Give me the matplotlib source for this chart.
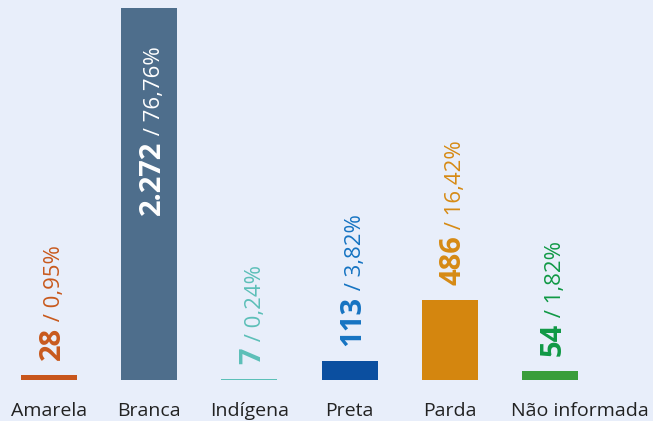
import matplotlib
matplotlib.use("Agg")
import matplotlib.pyplot as plt
import matplotlib.transforms as mtransforms

categories = ["Amarela", "Branca", "Indígena", "Preta", "Parda", "Não informada"]
counts = [28, 2272, 7, 113, 486, 54]
count_labels = ["28", "2.272", "7", "113", "486", "54"]
pct_labels = ["0,95%", "76,76%", "0,24%", "3,82%", "16,42%", "1,82%"]
bar_colors = ["#c8561c", "#4e6e8c", "#5cc0b8", "#0b4fa0", "#d4860f", "#3a9e3a"]
label_colors = ["#c8591d", "#ffffff", "#5cbfb8", "#1674c2", "#d68a14", "#109945"]

BG = "#e8eefa"
plt.rcParams["font.family"] = ["Open Sans", "DejaVu Sans"]

fig = plt.figure(figsize=(6.53, 4.21), dpi=100, facecolor=BG)
ax = fig.add_axes([0, 41 / 421, 1, 380 / 421])
ax.set_facecolor(BG)

x = list(range(len(categories)))
ax.bar(x, counts, width=0.56, color=bar_colors, zorder=2)
ax.set_xlim(-49 / 100.2, (653 - 49) / 100.2)
ax.set_ylim(0, 2272 * 380 / 372)

ax.set_xticks(x)
ax.set_xticklabels(categories, fontsize=14, color="#222222")
ax.tick_params(axis="x", length=0, pad=16)
ax.set_yticks([])
for s in ax.spines.values():
    s.set_visible(False)

# the long last label sits a little to the right in the original
lbl = ax.get_xticklabels()[-1]
lbl.set_transform(lbl.get_transform() + mtransforms.ScaledTranslation(30 / 100, 0, fig.dpi_scale_trans))

fig.canvas.draw()
renderer = fig.canvas.get_renderer()
for i, (c, cl, pl, col) in enumerate(zip(counts, count_labels, pct_labels, label_colors)):
    t1 = ax.annotate(cl, xy=(i, c), xytext=(8, 11), textcoords="offset points",
                     rotation=90, rotation_mode="anchor", ha="left", va="baseline",
                     fontsize=21, fontweight="bold", color=col, zorder=3)
    t2 = ax.annotate(" / " + pl, xy=(i, c), xytext=(8, 11), textcoords="offset points",
                     rotation=90, rotation_mode="anchor", ha="left", va="baseline",
                     fontsize=16, color=col, zorder=3)
    h1 = t1.get_window_extent(renderer).height * 72 / fig.dpi
    h2 = t2.get_window_extent(renderer).height * 72 / fig.dpi
    if i == 1:
        start = -149
    else:
        start = 11
    t1.set_position((8, start))
    t2.set_position((8, start + h1))

fig.savefig("out.png", dpi=100, facecolor=BG)
